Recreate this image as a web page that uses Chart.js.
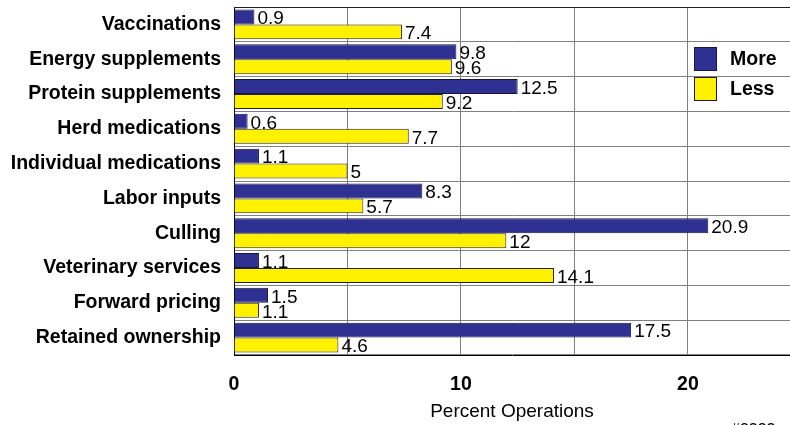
<!DOCTYPE html>
<html>
<head>
<meta charset="utf-8">
<script src="https://cdn.jsdelivr.net/npm/chart.js@4/dist/chart.umd.min.js"></script>
<style>
  html, body { margin: 0; padding: 0; background: #fff; overflow: hidden; }
  #wrap { position: relative; width: 790px; height: 425px; }
  #note { position: absolute; left: 731px; top: 421px; font: 16px "Liberation Sans", Arial, sans-serif; color: #000; }
</style>
</head>
<body>
<div id="wrap">
  <canvas id="c" width="790" height="425"></canvas>
  <div id="note">#3333</div>
</div>
<script>
const categories = ['Vaccinations', 'Energy supplements', 'Protein supplements', 'Herd medications',
  'Individual medications', 'Labor inputs', 'Culling', 'Veterinary services', 'Forward pricing',
  'Retained ownership'];
const moreValues = [0.9, 9.8, 12.5, 0.6, 1.1, 8.3, 20.9, 1.1, 1.5, 17.5];
const lessValues = [7.4, 9.6, 9.2, 7.7, 5, 5.7, 12, 14.1, 1.1, 4.6];
const seriesNames = ['More', 'Less'];
const xTickLabels = [0, 10, 20];
const FONT = '"Liberation Sans", Arial, Helvetica, sans-serif';

const valueLabels = {
  id: 'valueLabels',
  afterDatasetsDraw(chart) {
    const ctx = chart.ctx;
    ctx.save();
    ctx.font = '19px ' + FONT;
    ctx.fillStyle = '#000';
    ctx.textAlign = 'left';
    ctx.textBaseline = 'middle';
    chart.data.datasets.forEach((ds, di) => {
      chart.getDatasetMeta(di).data.forEach((bar, i) => {
        ctx.fillText(String(ds.data[i]), bar.x + 3, bar.y + 2);
      });
    });
    ctx.restore();
  }
};

const frameAndLegend = {
  id: 'frameAndLegend',
  afterDraw(chart) {
    const ctx = chart.ctx;
    const a = chart.chartArea;
    ctx.save();
    ctx.strokeStyle = '#222';
    ctx.lineWidth = 1;
    ctx.beginPath();
    ctx.moveTo(a.left, Math.round(a.top) + 0.5);
    ctx.lineTo(a.right, Math.round(a.top) + 0.5);
    ctx.stroke();
    const x0 = 694, y0 = 47;
    chart.data.datasets.forEach((ds, i) => {
      const y = y0 + i * 30;
      ctx.fillStyle = ds.backgroundColor;
      ctx.fillRect(x0, y, 23, 24);
      ctx.strokeStyle = '#1a1a40';
      ctx.strokeRect(x0 + 0.5, y + 0.5, 22, 23);
      ctx.fillStyle = '#000';
      ctx.font = 'bold 19.5px ' + FONT;
      ctx.textAlign = 'left';
      ctx.textBaseline = 'middle';
      ctx.fillText(ds.label, 730, y + 13);
    });
    ctx.restore();
  }
};

new Chart(document.getElementById('c'), {
  type: 'bar',
  data: {
    labels: categories,
    datasets: [
      { label: seriesNames[0], data: moreValues, backgroundColor: '#2E3192', borderColor: '#15153a', borderWidth: 1 },
      { label: seriesNames[1], data: lessValues, backgroundColor: '#FFF100', borderColor: '#222', borderWidth: 1 }
    ]
  },
  options: {
    indexAxis: 'y',
    responsive: false,
    animation: false,
    devicePixelRatio: 1,
    layout: { padding: { top: 7, right: 0, left: 0, bottom: 0 } },
    datasets: { bar: { categoryPercentage: 0.86, barPercentage: 1.0 } },
    plugins: { legend: { display: false }, tooltip: { enabled: false } },
    scales: {
      x: {
        min: 0,
        max: 24.5,
        ticks: {
          stepSize: 5,
          color: '#000',
          font: { family: FONT, size: 19.5, weight: 'bold' },
          padding: 18,
          maxRotation: 0,
          callback: (v) => xTickLabels.includes(v) ? String(v) : ''
        },
        afterBuildTicks: (scale) => { scale.ticks = scale.ticks.filter(t => t.value % 5 === 0); },
        afterFit: (scale) => { scale.height = 70; scale.paddingLeft = 0; scale.paddingRight = 0; },
        grid: { color: '#808080', lineWidth: 1, tickLength: 0, drawTicks: false },
        border: { color: '#000', width: 1 },
        title: {
          display: true,
          text: 'Percent Operations',
          color: '#000',
          font: { family: FONT, size: 19 },
          padding: { top: 0, bottom: 2 }
        }
      },
      y: {
        ticks: {
          color: '#000',
          font: { family: FONT, size: 19.5, weight: 'bold' },
          padding: 13,
          autoSkip: false
        },
        afterFit: (scale) => { scale.width = 234; scale.paddingTop = 0; scale.paddingBottom = 0; },
        grid: { color: '#808080', lineWidth: 1, offset: true, drawTicks: false, tickLength: 0 },
        border: { color: '#000', width: 1 }
      }
    }
  },
  plugins: [valueLabels, frameAndLegend]
});
</script>
</body>
</html>
